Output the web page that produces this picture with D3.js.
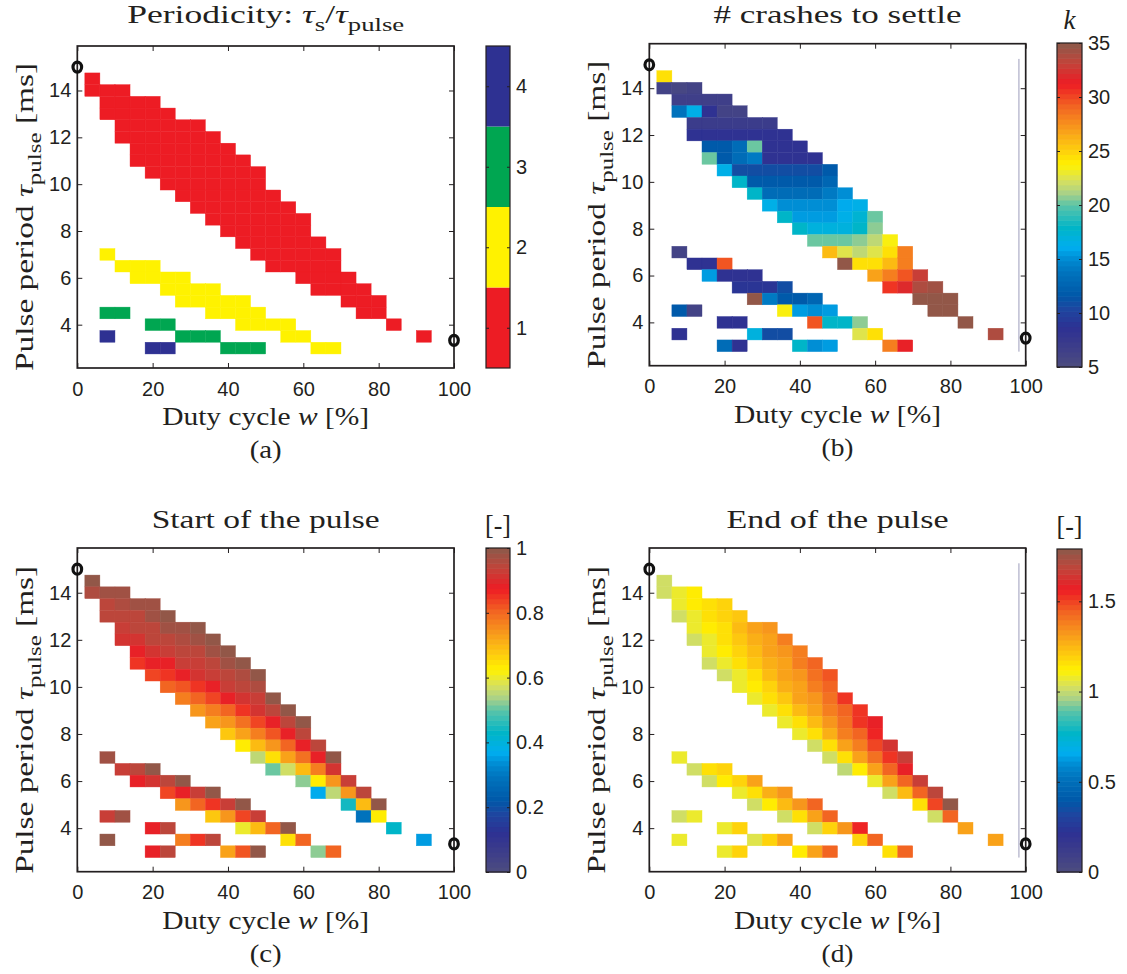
<!DOCTYPE html>
<html>
<head>
<meta charset="utf-8">
<script src="https://cdn.jsdelivr.net/npm/d3@7"></script>
<style>
  body { margin: 0; background: #fff; }
  svg { display: block; }
</style>
</head>
<body>
<svg id="fig" width="1127" height="974"></svg>
<script>
// ---- Sweep grid -------------------------------------------------------
// Duty cycles w [%] and pulse periods tau_pulse [ms] that were simulated
const dutyCycles = [4, 8, 12, 16, 20, 24, 28, 32, 36, 40, 44, 48, 52, 56, 60, 64, 68, 72, 76, 80, 84, 88, 92];
const pulsePeriods = [14.5, 14, 13.5, 13, 12.5, 12, 11.5, 11, 10.5, 10, 9.5, 9, 8.5, 8, 7.5, 7, 6.5, 6, 5.5, 5, 4.5, 4, 3.5, 3];
const dutyStep = 4;     // %
const periodStep = 0.5; // ms

// Each run: [tau_pulse (ms), first duty cycle (%), values at successive duty cycles]
// (a) periodicity tau_s / tau_pulse
const periodicityRuns = [
  [14.5, 4, [1]], [14, 4, [1, 1, 1]], [13.5, 8, [1, 1, 1, 1]], [13, 8, [1, 1, 1, 1, 1]],
  [12.5, 12, [1, 1, 1, 1, 1, 1]], [12, 12, [1, 1, 1, 1, 1, 1, 1]], [11.5, 16, [1, 1, 1, 1, 1, 1, 1]],
  [11, 16, [1, 1, 1, 1, 1, 1, 1, 1]], [10.5, 20, [1, 1, 1, 1, 1, 1, 1, 1]], [10, 24, [1, 1, 1, 1, 1, 1, 1]],
  [9.5, 28, [1, 1, 1, 1, 1, 1, 1]], [9, 32, [1, 1, 1, 1, 1, 1, 1]], [8.5, 36, [1, 1, 1, 1, 1, 1, 1]],
  [8, 40, [1, 1, 1, 1, 1, 1]], [7.5, 44, [1, 1, 1, 1, 1, 1]], [7, 48, [1, 1, 1, 1, 1, 1]],
  [6.5, 52, [1, 1, 1, 1, 1]], [6, 60, [1, 1, 1, 1]], [5.5, 64, [1, 1, 1, 1]], [5, 72, [1, 1, 1]],
  [4.5, 76, [1, 1]], [4, 84, [1]], [3.5, 92, [1]],
  [7, 8, [2]], [6.5, 12, [2, 2, 2]], [6, 16, [2, 2, 2, 2]], [5.5, 24, [2, 2, 2, 2]], [5, 28, [2, 2, 2, 2, 2]],
  [4.5, 36, [2, 2, 2, 2]], [4, 44, [2, 2, 2, 2]], [3.5, 56, [2, 2]], [3, 64, [2, 2]],
  [4.5, 8, [3, 3]], [4, 20, [3, 3]], [3.5, 28, [3, 3, 3]], [3, 40, [3, 3, 3]],
  [3.5, 8, [4]], [3, 20, [4, 4]]
];

// (b) number of crashes k before the response settles
const crashRuns = [
  [14.5, 4, [24.5]], [14, 4, [6, 5.5, 6]], [13.5, 8, [6.5, 6.5, 6.5, 6.5]],
  [13, 8, [13.5, 16.5, 8.5, 6, 6]], [12.5, 12, [7, 7, 7, 7, 7, 7]],
  [12, 12, [8.5, 8.5, 8.5, 8.5, 8.5, 8.5, 8.5]], [11.5, 16, [12, 12, 13, 20, 8.5, 8.5, 8.5]],
  [11, 16, [20, 12, 13, 14, 8.5, 8.5, 8.5, 8.5]], [10.5, 20, [16.5, 11, 11, 11, 11, 11, 11, 12]],
  [10, 24, [18, 12, 12, 12, 12, 12, 12.5]], [9.5, 28, [18, 13, 13, 13, 13, 14, 15]],
  [9, 32, [16.5, 15, 15, 15, 15, 16, 16.5]], [8.5, 36, [18, 15.5, 15.5, 15.5, 16.5, 17.5, 20]],
  [8, 40, [18, 17, 17, 17, 18, 20.5]], [7.5, 44, [20, 20, 20, 20.5, 21.5, 23.5]],
  [7, 48, [26, 22.5, 21.5, 22.5, 24.5, 28]], [6.5, 52, [35, 24.5, 24.5, 26, 28]],
  [6, 60, [27, 28, 29.5, 33]], [5.5, 64, [30.5, 32, 34, 34.5]], [5, 72, [35, 35, 35]],
  [4.5, 76, [35, 35]], [4, 84, [35]], [3.5, 92, [34]],
  [7, 8, [6]], [6.5, 12, [8.5, 8.5, 29.5]], [6, 16, [15.5, 8.5, 8.5, 8.5]], [5.5, 24, [9, 9, 9, 11]],
  [5, 28, [35, 14, 12, 12, 12.5]], [4.5, 36, [23.5, 15.5, 15, 15.5]], [4, 44, [29.5, 18, 18, 20.5]],
  [3.5, 56, [22.5, 24.5]], [3, 64, [28, 31.5]],
  [4.5, 8, [12, 6]], [4, 20, [8.5, 8.5]], [3.5, 28, [17, 11, 11]], [3, 40, [18, 15, 15.5]],
  [3.5, 8, [8.5]], [3, 20, [13, 8.5]]
];

// (c) phase at the start of the pulse [-]
const startRuns = [
  [14.5, 4, [0.99]], [14, 4, [0.96, 0.98, 0.98]], [13.5, 8, [0.95, 0.96, 0.98, 0.98]],
  [13, 8, [0.94, 0.95, 0.95, 0.97, 0.99]], [12.5, 12, [0.93, 0.94, 0.95, 0.97, 0.97, 0.99]],
  [12, 12, [0.91, 0.92, 0.94, 0.95, 0.96, 0.97, 0.99]], [11.5, 16, [0.89, 0.91, 0.925, 0.94, 0.95, 0.97, 0.99]],
  [11, 16, [0.855, 0.875, 0.89, 0.925, 0.93, 0.95, 0.97, 0.99]],
  [10.5, 20, [0.84, 0.855, 0.875, 0.91, 0.925, 0.95, 0.96, 0.99]],
  [10, 24, [0.81, 0.825, 0.855, 0.89, 0.925, 0.95, 0.96]],
  [9.5, 28, [0.77, 0.81, 0.84, 0.875, 0.91, 0.93, 0.99]],
  [9, 32, [0.745, 0.77, 0.81, 0.855, 0.91, 0.94, 0.99]],
  [8.5, 36, [0.72, 0.745, 0.79, 0.84, 0.89, 0.95, 0.99]],
  [8, 40, [0.68, 0.72, 0.77, 0.825, 0.89, 0.94]],
  [7.5, 44, [0.625, 0.695, 0.745, 0.81, 0.89, 0.95]],
  [7, 48, [0.56, 0.645, 0.72, 0.79, 0.89, 0.99]],
  [6.5, 52, [0.505, 0.575, 0.695, 0.77, 0.91]],
  [6, 60, [0.52, 0.625, 0.745, 0.925]], [5.5, 64, [0.37, 0.56, 0.745, 0.95]],
  [5, 72, [0.45, 0.695, 0.99]], [4.5, 76, [0.29, 0.625]], [4, 84, [0.43]], [3.5, 92, [0.355]],
  [7, 8, [0.97]], [6.5, 12, [0.93, 0.95, 0.99]], [6, 16, [0.875, 0.91, 0.95, 0.99]],
  [5.5, 24, [0.84, 0.89, 0.93, 0.99]], [5, 28, [0.745, 0.81, 0.855, 0.93, 0.99]],
  [4.5, 36, [0.68, 0.745, 0.84, 0.93]], [4, 44, [0.6, 0.695, 0.81, 0.99]],
  [3.5, 56, [0.645, 0.81]], [3, 64, [0.525, 0.81]],
  [4.5, 8, [0.93, 0.97]], [4, 20, [0.89, 0.95]], [3.5, 28, [0.77, 0.855, 0.94]], [3, 40, [0.72, 0.825, 0.99]],
  [3.5, 8, [0.99]], [3, 20, [0.89, 0.95]]
];

// (d) phase at the end of the pulse [-]
const endRuns = [
  [14.5, 4, [1.03]], [14, 4, [1.03, 1.07, 1.12]], [13.5, 8, [1.07, 1.12, 1.155, 1.19]],
  [13, 8, [1.03, 1.09, 1.155, 1.19, 1.22]], [12.5, 12, [1.07, 1.12, 1.17, 1.235, 1.29, 1.33]],
  [12, 12, [1.03, 1.09, 1.155, 1.22, 1.26, 1.31, 1.38]],
  [11.5, 16, [1.07, 1.12, 1.19, 1.24, 1.29, 1.33, 1.38]],
  [11, 16, [1.03, 1.09, 1.155, 1.22, 1.26, 1.31, 1.38, 1.45]],
  [10.5, 20, [1.03, 1.07, 1.17, 1.24, 1.29, 1.33, 1.41, 1.48]],
  [10, 24, [1.07, 1.12, 1.19, 1.26, 1.31, 1.38, 1.45]],
  [9.5, 28, [1.07, 1.155, 1.22, 1.29, 1.33, 1.41, 1.52]],
  [9, 32, [1.07, 1.155, 1.235, 1.29, 1.38, 1.45, 1.53]],
  [8.5, 36, [1.09, 1.17, 1.24, 1.33, 1.41, 1.52, 1.59]],
  [8, 40, [1.07, 1.17, 1.26, 1.38, 1.45, 1.565]],
  [7.5, 44, [1.03, 1.17, 1.29, 1.38, 1.5, 1.63]],
  [7, 48, [1.03, 1.17, 1.29, 1.41, 1.53, 1.665]],
  [6.5, 52, [1.0, 1.12, 1.29, 1.45, 1.59]],
  [6, 60, [1.09, 1.29, 1.45, 1.665]], [5.5, 64, [1.03, 1.24, 1.45, 1.7]],
  [5, 72, [1.17, 1.5, 1.78]], [4.5, 76, [1.03, 1.45]], [4, 84, [1.29]], [3.5, 92, [1.29]],
  [7, 8, [1.07]], [6.5, 12, [1.03, 1.155, 1.19]], [6, 16, [1.03, 1.12, 1.19, 1.29]],
  [5.5, 24, [1.07, 1.17, 1.26, 1.33]], [5, 28, [1.03, 1.12, 1.24, 1.33, 1.45]],
  [4.5, 36, [1.03, 1.17, 1.29, 1.45]], [4, 44, [1.03, 1.19, 1.33, 1.565]],
  [3.5, 56, [1.19, 1.45]], [3, 64, [1.155, 1.45]],
  [4.5, 8, [1.03, 1.09]], [4, 20, [1.09, 1.19]], [3.5, 28, [1.055, 1.19, 1.29]], [3, 40, [1.12, 1.29, 1.45]],
  [3.5, 8, [1.09]], [3, 20, [1.09, 1.19]]
];

// Ticks and scale limits
const xTicks = [0, 20, 40, 60, 80, 100];
const yTicks = [4, 6, 8, 10, 12, 14];
const periodicityTicks = [1, 2, 3, 4];
const crashTicks = [5, 10, 15, 20, 25, 30, 35];
const startTicks = [0, 0.2, 0.4, 0.6, 0.8, 1];
const endTicks = [0, 0.5, 1, 1.5];
const crashRange = [5, 35];
const startRange = [0, 1];
const endRange = [0, 1.79];

// Corners of the swept region (w, tau_pulse)
const sweepCorners = [[0, 15], [100, 3.33]];
// Upper duty-cycle limit shown as a guide line in (b) and (d)
const guideLine = { w: 98.2, from: 2.75, to: 15.25 };

// ---- Colour maps ------------------------------------------------------
const periodicityColors = ["#ed1c24", "#fff200", "#00a651", "#2e3192"];
const mapStops = [
  [0, "#4d4d7e"], [0.06, "#3e3e8a"], [0.12, "#2e3192"], [0.18, "#1d46a0"], [0.22, "#0057a8"],
  [0.29, "#0072bc"], [0.33, "#0088d0"], [0.37, "#00aeef"], [0.43, "#00b5c8"], [0.5, "#5ac4a8"],
  [0.535, "#a6d08a"], [0.575, "#d6e060"], [0.625, "#fff200"], [0.68, "#fdc70f"], [0.745, "#f7941d"],
  [0.805, "#f26522"], [0.875, "#ed1c24"], [0.94, "#c1443a"], [1, "#8b5a4a"]
];
const smoothMap = d3.scaleLinear(mapStops.map(d => d[0]), mapStops.map(d => d[1]))
  .interpolate(d3.interpolateRgb).clamp(true);
const nLevels = 64;
const levelColor = t => {
  const i = Math.max(0, Math.min(nLevels - 1, Math.floor(t * nLevels)));
  return smoothMap((i + 0.5) / nLevels);
};

// ---- Layout -----------------------------------------------------------
const svg = d3.select("#fig");
const serif = "'Liberation Serif', 'Times New Roman', serif";
const sans = "'Liberation Sans', Arial, Helvetica, sans-serif";
const ink = "#231f20";
const yDomain = [2.15, 15.9];

// Writes text built from parts; sub parts are lowered and smaller.
// An optional width widens the glyphs to that total length.
function richText(g, x, y, size, parts, opts = {}) {
  const t = g.append("text")
    .attr("x", x).attr("y", y)
    .attr("font-family", serif).attr("font-size", size)
    .attr("fill", ink).attr("text-anchor", opts.anchor || "middle");
  if (opts.transform) t.attr("transform", opts.transform);
  if (opts.width) t.attr("textLength", opts.width).attr("lengthAdjust", "spacingAndGlyphs");
  let shift = 0;
  parts.forEach(p => {
    const s = t.append("tspan").text(p.t);
    const target = p.sub ? size * 0.3 : 0;
    if (target !== shift) { s.attr("dy", target - shift); shift = target; }
    if (p.sub) s.attr("font-size", size * 0.75);
    if (p.i) s.attr("font-style", "italic");
  });
  return t;
}

const panels = [
  {
    box: [77.3, 46, 454, 368], runs: periodicityRuns,
    color: v => periodicityColors[v - 1],
    title: [{ t: "Periodicity: " }, { t: "τ", i: true }, { t: "s", sub: true }, { t: "/" }, { t: "τ", i: true }, { t: "pulse", sub: true }],
    titleWidth: 277, titleY: 23,
    letter: "(a)",
    cbar: { box: [486, 46, 510, 368], discrete: true, ticks: periodicityTicks },
    guide: false
  },
  {
    box: [649.3, 43.7, 1025.7, 365.7], runs: crashRuns,
    color: v => levelColor((v - crashRange[0]) / (crashRange[1] - crashRange[0])),
    title: [{ t: "# crashes to settle" }],
    titleWidth: 248, titleY: 23,
    letter: "(b)",
    cbar: { box: [1057, 43, 1082, 367], range: crashRange, ticks: crashTicks, label: [{ t: "k", i: true }] },
    guide: true
  },
  {
    box: [77.3, 548, 454, 871.7], runs: startRuns,
    color: v => levelColor((v - startRange[0]) / (startRange[1] - startRange[0])),
    title: [{ t: "Start of the pulse" }],
    titleWidth: 228, titleY: 528,
    letter: "(c)",
    cbar: { box: [486, 548, 510, 872], range: startRange, ticks: startTicks, label: [{ t: "[-]" }] },
    guide: false
  },
  {
    box: [649.3, 548, 1025.7, 871.7], runs: endRuns,
    color: v => levelColor((v - endRange[0]) / (endRange[1] - endRange[0])),
    title: [{ t: "End of the pulse" }],
    titleWidth: 222, titleY: 528,
    letter: "(d)",
    cbar: { box: [1057, 549, 1082, 872], range: endRange, ticks: endTicks, label: [{ t: "[-]" }] },
    guide: true
  }
];

panels.forEach(p => {
  const [x0, y0, x1, y1] = p.box;
  const x = d3.scaleLinear([0, 100], [x0, x1]);
  const y = d3.scaleLinear(yDomain, [y1, y0]);
  const g = svg.append("g");

  // heat-map cells
  const cells = [];
  p.runs.forEach(([tau, w0, vals]) => vals.forEach((v, i) => cells.push({ tau, w: w0 + i * dutyStep, v })));
  g.append("g").selectAll("rect").data(cells).join("rect")
    .attr("x", d => x(d.w - dutyStep / 2))
    .attr("width", d => x(d.w + dutyStep / 2) - x(d.w - dutyStep / 2))
    .attr("y", d => y(d.tau + periodStep / 2))
    .attr("height", d => y(d.tau - periodStep / 2) - y(d.tau + periodStep / 2))
    .attr("fill", d => p.color(d.v))
    .attr("stroke", d => p.color(d.v))
    .attr("stroke-width", 0.4);

  if (p.guide) {
    g.append("line")
      .attr("x1", x(guideLine.w)).attr("x2", x(guideLine.w))
      .attr("y1", y(guideLine.from)).attr("y2", y(guideLine.to))
      .attr("stroke", "#9d9dbb").attr("stroke-width", 1);
  }

  // axes with inward ticks on all four sides
  const styleAxis = a => {
    a.select(".domain").remove();
    a.selectAll("line").attr("stroke", ink).attr("stroke-width", 1);
    a.selectAll("text").attr("font-family", sans).attr("font-size", 20).attr("fill", ink);
  };
  g.append("g").attr("transform", `translate(0,${y1})`)
    .call(d3.axisBottom(x).tickValues(xTicks).tickSize(-5).tickPadding(13.5).tickFormat(d3.format("d")))
    .call(styleAxis);
  g.append("g").attr("transform", `translate(0,${y0})`)
    .call(d3.axisTop(x).tickValues(xTicks).tickSize(-5).tickFormat(""))
    .call(styleAxis);
  g.append("g").attr("transform", `translate(${x0},0)`)
    .call(d3.axisLeft(y).tickValues(yTicks).tickSize(-5).tickPadding(6).tickFormat(d3.format("d")))
    .call(styleAxis);
  g.append("g").attr("transform", `translate(${x1},0)`)
    .call(d3.axisRight(y).tickValues(yTicks).tickSize(-5).tickFormat(""))
    .call(styleAxis);
  g.append("rect").attr("x", x0).attr("y", y0).attr("width", x1 - x0).attr("height", y1 - y0)
    .attr("fill", "none").attr("stroke", ink).attr("stroke-width", 1.7);

  // sweep corner markers
  g.selectAll("ellipse.corner").data(sweepCorners).join("ellipse")
    .attr("class", "corner")
    .attr("cx", d => x(d[0])).attr("cy", d => y(d[1]))
    .attr("rx", 4.3).attr("ry", 5)
    .attr("fill", "none").attr("stroke", "#111").attr("stroke-width", 3.2);

  // text
  const cx = (x0 + x1) / 2;
  richText(g, cx, p.titleY, 25, p.title, { width: p.titleWidth });
  richText(g, cx, y1 + 57, 25, [{ t: "Duty cycle " }, { t: "w", i: true }, { t: " [%]" }], { width: 207 });
  richText(g, cx, y1 + 90, 25, [{ t: p.letter }], { width: 32 });
  const ly = (y0 + y1) / 2 + 10;
  richText(g, 0, 0, 25,
    [{ t: "Pulse period " }, { t: "τ", i: true }, { t: "pulse", sub: true }, { t: " [ms]" }],
    { width: 308, transform: `translate(${x0 - 44},${ly}) rotate(-90)` });

  // colour bar
  const c = p.cbar;
  const [bx0, by0, bx1, by1] = c.box;
  const cb = svg.append("g");
  let cy;
  if (c.discrete) {
    cy = d3.scaleLinear([0.5, 4.5], [by1, by0]);
    cb.selectAll("rect").data(periodicityColors).join("rect")
      .attr("x", bx0).attr("width", bx1 - bx0)
      .attr("y", (d, i) => cy(i + 1.5)).attr("height", (d, i) => cy(i + 0.5) - cy(i + 1.5))
      .attr("fill", d => d);
  } else {
    cy = d3.scaleLinear(c.range, [by1, by0]);
    const levels = d3.range(nLevels);
    const lev = d3.scaleLinear([0, nLevels], [by1, by0]);
    cb.selectAll("rect").data(levels).join("rect")
      .attr("x", bx0).attr("width", bx1 - bx0)
      .attr("y", i => lev(i + 1)).attr("height", i => lev(i) - lev(i + 1) + 0.6)
      .attr("fill", i => smoothMap((i + 0.5) / nLevels));
  }
  cb.append("g").attr("transform", `translate(${bx1},0)`)
    .call(d3.axisRight(cy).tickValues(c.ticks).tickSize(-3).tickPadding(6).tickFormat(d => String(d)))
    .call(styleAxis);
  cb.append("g").attr("transform", `translate(${bx0},0)`)
    .call(d3.axisLeft(cy).tickValues(c.ticks).tickSize(-3).tickFormat(""))
    .call(styleAxis);
  cb.append("rect").attr("x", bx0).attr("y", by0).attr("width", bx1 - bx0).attr("height", by1 - by0)
    .attr("fill", "none").attr("stroke", ink).attr("stroke-width", 1.2);
  if (c.label) richText(cb, (bx0 + bx1) / 2, by0 - 14, 27, c.label, c.label[0].i ? {} : { width: 26 });
});
</script>
</body>
</html>
